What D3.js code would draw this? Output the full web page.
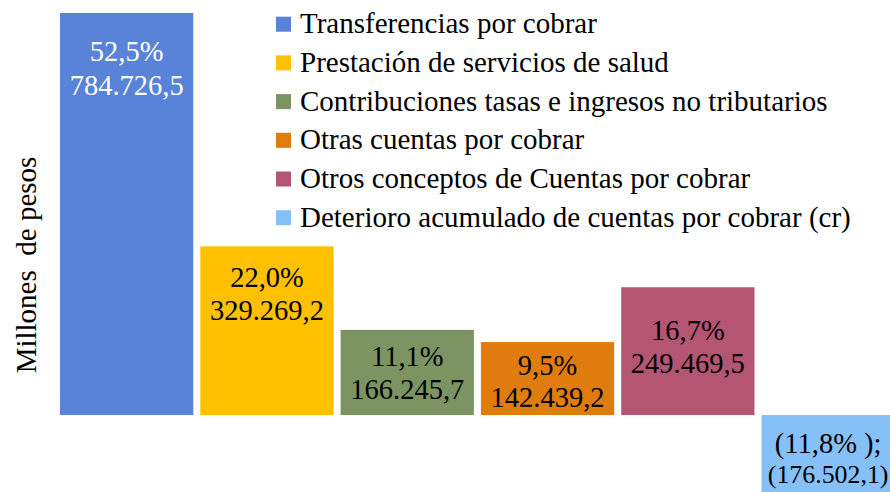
<!DOCTYPE html>
<html>
<head>
<meta charset="utf-8">
<script src="https://cdn.jsdelivr.net/npm/d3@7"></script>
<style>
  html, body { margin: 0; padding: 0; background: #fff; }
  svg { display: block; }
</style>
</head>
<body>
<svg id="chart" width="890" height="492"></svg>
<script>
// ---- data ----
const categories = [
  "Transferencias por cobrar",
  "Prestación de servicios de salud",
  "Contribuciones tasas e ingresos no tributarios",
  "Otras cuentas por cobrar",
  "Otros conceptos de Cuentas por cobrar",
  "Deterioro acumulado de cuentas por cobrar (cr)"
];
const values = [784726.5, 329269.2, 166245.7, 142439.2, 249469.5, -176502.1];
const percents = [52.5, 22.0, 11.1, 9.5, 16.7, -11.8];
const yAxisTitle = "Millones  de pesos";

// ---- styles / layout ----
const FONT = "'Liberation Serif', 'Times New Roman', Times, 'DejaVu Serif', serif";
const colors = ["#5983d8", "#ffc000", "#7c9462", "#e07c0e", "#b45573", "#86c0f8"];
const labelColors = ["#ffffff", "#000", "#000", "#000", "#000", "#000"];
const labelOffset = [48, 41, 36, 33, 53, 38]; // first-line baseline below bar top edge
const lineGap = [34, 33, 33, 32, 33, 30];

const W = 890, H = 492;
const svg = d3.select("#chart").attr("font-family", FONT);

const locale = d3.formatLocale({ decimal: ",", thousands: ".", grouping: [3], currency: ["$", ""] });
const fmtVal = locale.format(",.1f");
const fmtPct = locale.format(".1f");

const x = d3.scaleBand().domain(categories).range([56.5, 898.3]).paddingInner(0.05).paddingOuter(0.025);
const y = d3.scaleLinear().domain([-200000, 800000]).range([517.5, 5.2]);

svg.append("defs").append("clipPath").attr("id", "clip")
  .append("rect").attr("x", 0).attr("y", 0).attr("width", W).attr("height", H);

const g = svg.append("g").attr("clip-path", "url(#clip)");

g.selectAll("rect.bar").data(values).join("rect")
  .attr("class", "bar")
  .attr("x", (d, i) => x(categories[i]))
  .attr("width", x.bandwidth())
  .attr("y", d => y(Math.max(0, d)))
  .attr("height", d => Math.abs(y(d) - y(0)))
  .attr("fill", (d, i) => colors[i]);

// labels
const LABEL_SIZE = 28.5;
const lbl = svg.selectAll("g.lbl").data(values).join("g").attr("class", "lbl");
lbl.each(function(d, i) {
  const cx = x(categories[i]) + x.bandwidth() / 2;
  const top = d >= 0 ? y(d) : y(0);
  const sel = d3.select(this);
  const neg = d < 0;
  const l1 = neg ? "(" + fmtPct(Math.abs(percents[i])) + "% );" : fmtPct(percents[i]) + "%";
  const l2 = neg ? "(" + fmtVal(Math.abs(d)) + ")" : fmtVal(d);
  [l1, l2].forEach((t, k) => {
    const tx = sel.append("text")
      .attr("x", cx).attr("y", top + labelOffset[i] + k * lineGap[i])
      .attr("text-anchor", "middle")
      .attr("font-size", LABEL_SIZE)
      .attr("fill", labelColors[i])
      .text(t);
    // keep the label within the visible part of the picture
    const avail = Math.min(x.bandwidth() - 4, 2 * (W - cx) - 3);
    const len = tx.node().getComputedTextLength();
    if (len > avail) tx.attr("font-size", LABEL_SIZE * avail / len);
  });
});

// y-axis title
svg.append("text")
  .attr("transform", "translate(36,265) rotate(-90)")
  .attr("text-anchor", "middle")
  .attr("font-size", 29)
  .attr("fill", "#000")
  .style("white-space", "pre")
  .text(yAxisTitle);

// legend
const legend = svg.append("g").attr("transform", "translate(276,16.7)");
const items = legend.selectAll("g").data(categories).join("g")
  .attr("transform", (d, i) => `translate(0,${i * 38.7})`);
items.append("rect").attr("width", 15).attr("height", 15).attr("fill", (d, i) => colors[i]);
items.append("text").attr("x", 24).attr("y", 16.5).attr("font-size", 29).attr("fill", "#000").text(d => d);
</script>
</body>
</html>
